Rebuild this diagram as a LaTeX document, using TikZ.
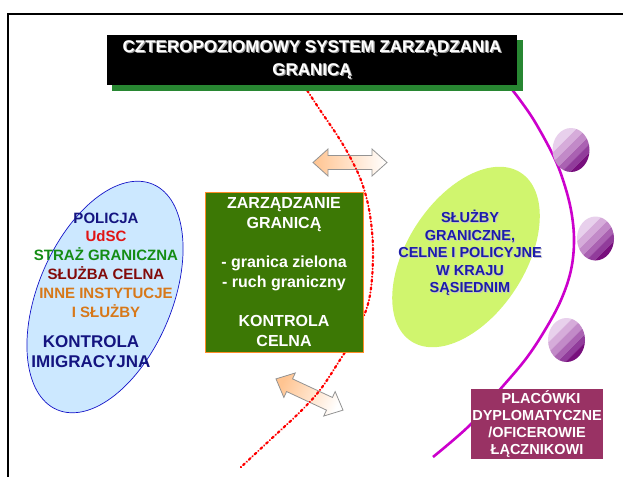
\documentclass[tikz,border=0pt]{standalone}
\usepackage{fontspec}
\setmainfont{Liberation Sans}
\usetikzlibrary{shapes.geometric}
\definecolor{ellblue}{RGB}{204,232,255}
\definecolor{ellblueline}{RGB}{20,20,200}
\definecolor{lime}{RGB}{208,245,110}
\definecolor{navy}{RGB}{20,20,128}
\definecolor{navyb}{RGB}{28,28,170}
\definecolor{udscred}{RGB}{225,20,20}
\definecolor{sggreen}{RGB}{20,140,20}
\definecolor{scred}{RGB}{130,10,10}
\definecolor{instor}{RGB}{215,120,25}
\definecolor{boxgreen}{RGB}{60,120,5}
\definecolor{boxorange}{RGB}{255,140,40}
\definecolor{titlegreen}{RGB}{40,135,50}
\definecolor{plum}{RGB}{153,50,100}
\definecolor{magline}{RGB}{204,0,204}
\definecolor{peach}{RGB}{255,196,145}
\definecolor{bA}{RGB}{232,208,236}
\definecolor{bB}{RGB}{214,172,218}
\definecolor{bC}{RGB}{194,138,200}
\definecolor{bD}{RGB}{170,98,178}
\definecolor{bE}{RGB}{145,60,155}
\definecolor{bF}{RGB}{120,15,125}
\newcommand{\purpleball}[2]{%
  \begin{scope}
    \clip (#1,#2) ellipse [x radius=18.5pt, y radius=22pt];
    \begin{scope}[shift={(#1,#2)}, x={(0.7071pt,-0.7071pt)}, y={(0.7071pt,0.7071pt)}]
      \fill[bA] (-40,-40) -- (-11,-40) -- (-11,40) -- (-40,40) -- cycle;
      \fill[bB] (-11,-40) -- (-4,-40) -- (-4,40) -- (-11,40) -- cycle;
      \fill[bC] (-4,-40) -- (3,-40) -- (3,40) -- (-4,40) -- cycle;
      \fill[bD] (3,-40) -- (9,-40) -- (9,40) -- (3,40) -- cycle;
      \fill[bE] (9,-40) -- (15,-40) -- (15,40) -- (9,40) -- cycle;
      \fill[bF] (15,-40) -- (40,-40) -- (40,40) -- (15,40) -- cycle;
    \end{scope}
  \end{scope}}
\begin{document}
\begin{tikzpicture}[x=1pt,y=1pt,
  frameline/.style={line width=1.5pt},
  leftell/.style={ellipse, draw=ellblueline, fill=ellblue, line width=0.7pt, inner sep=0pt},
  rightell/.style={ellipse, fill=lime, inner sep=0pt},
  purpleline/.style={draw=magline, line width=2.6pt},
  redline/.style={draw=red, line width=2.2pt, line cap=round, dash pattern=on 2.2pt off 2.8pt on 0.1pt off 2.8pt},
  blockarrow/.style={draw=gray!85, line width=0.8pt},
  greenbox/.style={rectangle, fill=boxgreen, draw=boxorange, line width=0.9pt, inner sep=0pt,
    text=white, font=\bfseries\fontsize{16}{19.7}\selectfont, align=center},
  plumbox/.style={rectangle, fill=plum, inner sep=0pt, text=white,
    font=\bfseries\fontsize{14.5}{17.3}\selectfont, align=center},
  titletext/.style={font=\bfseries\fontsize{17}{23}\selectfont, align=center},
  lefttext/.style={font=\bfseries\fontsize{15}{18.8}\selectfont, align=center},
  lefttextb/.style={font=\bfseries\fontsize{17}{20}\selectfont, align=center, text=navy},
  righttext/.style={font=\bfseries\fontsize{14.5}{17.4}\selectfont, align=center}
]
\useasboundingbox (0,0) rectangle (623,-476);
% frame
\draw[frameline] (8,-477) -- (8,-14) -- (624,-14);

% ellipses
\node[leftell, minimum width=245pt, minimum height=134pt, rotate=67] (ellL) at (105,-297) {};
\node[rightell, minimum width=201pt, minimum height=118pt, rotate=57] (ellR) at (466,-257) {};

% purple curve
\draw[purpleline] plot[smooth, tension=0.6] coordinates {(506,-82) (520,-100) (535,-122) (553,-155) (563,-180) (571,-210) (574,-240) (571,-270) (561,-300) (545,-330) (525,-360) (497,-393) (470,-425) (433,-457)};

% purple balls
\purpleball{571}{-150}
\purpleball{595.5}{-238.5}
\purpleball{566.5}{-340}

% block arrows
\begin{scope}[shift={(350,-162.5)}]
  \draw[blockarrow, left color=peach, right color=white] (-37,0) -- (-22,13.5) -- (-22,7) -- (22,7) -- (22,13.5) -- (37,0) -- (22,-13.5) -- (22,-7) -- (-22,-7) -- (-22,-13.5) -- cycle;
\end{scope}
\begin{scope}[shift={(309.5,-394.5)}, x={(0.9063pt,-0.4226pt)}, y={(0.4226pt,0.9063pt)}]
  \draw[blockarrow, top color=peach, bottom color=white, shading angle=65] (-37,0) -- (-22,13.5) -- (-22,7) -- (22,7) -- (22,13.5) -- (37,0) -- (22,-13.5) -- (22,-7) -- (-22,-7) -- (-22,-13.5) -- cycle;
\end{scope}

% red border line
\draw[redline] plot[smooth, tension=0.6] coordinates {(303,-84) (320,-110) (337,-135) (350,-157) (362,-183) (370,-215) (373,-255) (369,-300) (355,-335) (338,-363) (320,-390) (300,-412) (270,-440) (240,-468)};

% green box
\node[greenbox, minimum width=158pt, minimum height=160pt] (zg) at (284,-272)
  {ZARZĄDZANIE\\GRANICĄ\\[19.7pt]- granica zielona\\- ruch graniczny\\[19.7pt]KONTROLA\\CELNA};

% plum box
\node[plumbox, minimum width=132pt, minimum height=70pt] (pl) at (537,-424)
  {\hspace{8pt}PLACÓWKI\\DYPLOMATYCZNE\\/OFICEROWIE\\ŁĄCZNIKOWI};

% title
\fill[titlegreen] (112,-40) rectangle (523,-91);
\node[fill=black, minimum width=410pt, minimum height=50pt, inner sep=0pt] (titlebox) at (312,-60) {};
\node[titletext, text=gray!75] (titleshadow) at (313.2,-61.2) {CZTEROPOZIOMOWY SYSTEM ZARZĄDZANIA\\GRANICĄ};
\node[titletext, text=white] (title) at (312,-60) {CZTEROPOZIOMOWY SYSTEM ZARZĄDZANIA\\GRANICĄ};

% left ellipse texts
\node[lefttext] (lt1) at (106,-265) {\textcolor{navy}{POLICJA}\\\textcolor{udscred}{UdSC}\\\textcolor{sggreen}{STRAŻ GRANICZNA}\\\textcolor{scred}{SŁUŻBA CELNA}\\\textcolor{instor}{INNE INSTYTUCJE}\\\textcolor{instor}{I SŁUŻBY}};
\node[lefttextb] (lt2) at (91,-352) {KONTROLA\\IMIGRACYJNA};

% right ellipse text
\node[righttext, text=gray!45] (rtshadow) at (471,-254) {SŁUŻBY\\GRANICZNE,\\CELNE I POLICYJNE\\W KRAJU\\SĄSIEDNIM};
\node[righttext, text=navyb] (rt) at (470,-253) {SŁUŻBY\\GRANICZNE,\\CELNE I POLICYJNE\\W KRAJU\\SĄSIEDNIM};
\end{tikzpicture}
\end{document}
